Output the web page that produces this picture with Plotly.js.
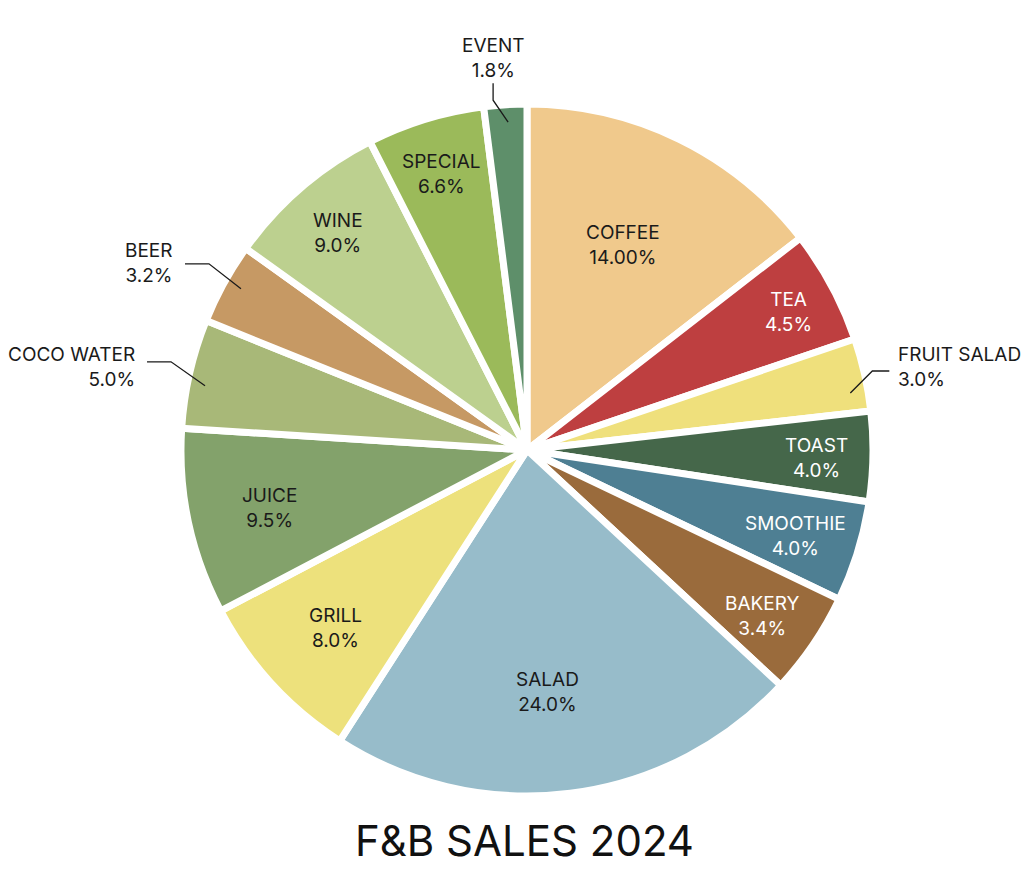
<!DOCTYPE html>
<html><head><meta charset="utf-8">
<script src="https://cdn.plot.ly/plotly-3.0.1.min.js"></script>
<style>html,body{margin:0;padding:0;background:#fff}#chart{width:1024px;height:893px}</style>
</head><body><div id="chart"></div>
<script>
// ---- data ----
const categories = ['COFFEE','TEA','FRUIT SALAD','TOAST','SMOOTHIE','BAKERY','SALAD','GRILL','JUICE','COCO WATER','BEER','WINE','SPECIAL','EVENT'];
// slice sizes as drawn in the picture (angles)
const sliceValues = [14.5, 5.3, 3.4, 4.2, 4.7, 4.8, 22.2, 8.2, 8.7, 5.1, 3.8, 7.6, 5.5, 2.0];
// percentages as printed on the reference
const shareLabels = ['14.00%','4.5%','3.0%','4.0%','4.0%','3.4%','24.0%','8.0%','9.5%','5.0%','3.2%','9.0%','6.6%','1.8%'];
const sliceColors = ['#F0C98C','#BE3F40','#EFE07C','#45674A','#4E7F93','#9A6B3C','#97BCCA','#EDE17C','#83A26B','#A8B878','#C69964','#BCD08F','#9BBA5A','#5E8F6A'];
const lightTextSlices = ['TEA','TOAST','SMOOTHIE','BAKERY'];
const chartTitle = 'F&B SALES 2024';

// ---- layout / style config ----
const W = 1024, H = 893;
const CX = 527, CY = 450, R = 346;          // pie centre and radius (px)
const FONT = 'Inter, "Liberation Sans", Arial, sans-serif';
const DARK = '#1a1a1a';
const LABEL_SIZE = 19;
const TEXT_DROP = 3;                         // small vertical nudge of inside labels (px)
// placement of inside labels: distance from centre (px) and angular nudge (deg) from each slice's mid angle
const insideLabelPlacement = {
  COFFEE: {r: 229, da: -1.2}, TEA: {r: 297, da: 0}, TOAST: {r: 290, da: 0}, SMOOTHIE: {r: 281, da: 0},
  BAKERY: {r: 287, da: 0.5}, SALAD: {r: 240, da: 2.2}, GRILL: {r: 259, da: 0}, JUICE: {r: 263, da: 0},
  WINE: {r: 290, da: 0}, SPECIAL: {r: 292, da: 0}
};
// leader-line styling for labels placed outside the pie
const outsideLabelStyle = {
  'FRUIT SALAD': {side: 'right', da: 2.6, dx: 22, dy: -22, len: 17, gap: 7, ty: -4},
  'COCO WATER': {side: 'left', da: -1.5, dx: -34, dy: -24, len: 24, gap: 10, ty: 5},
  'BEER': {side: 'left', da: 0.6, dx: -32, dy: -25, len: 24, gap: 10, ty: -1},
  'EVENT': {side: 'up', da: 0.3, dx: -15, dy: -22, len: 17, gap: -1, ty: 0}
};

const total = sliceValues.reduce((a, b) => a + b, 0);
let cum = 0;
const midAngles = sliceValues.map(v => { const m = (cum + v / 2) / total * 2 * Math.PI; cum += v; return m; });
const deg = Math.PI / 180;

const px = x => x / W, py = y => 1 - y / H;
const annotations = [], shapes = [];
categories.forEach((c, i) => {
  const txt = c + '<br>' + shareLabels[i];
  const st = outsideLabelStyle[c];
  if (!st) {
    const pl = insideLabelPlacement[c];
    const a = midAngles[i] + pl.da * deg;
    annotations.push({xref: 'paper', yref: 'paper',
      x: px(CX + pl.r * Math.sin(a)), y: py(CY - pl.r * Math.cos(a) + TEXT_DROP),
      xanchor: 'center', yanchor: 'middle', align: 'center', showarrow: false, text: txt,
      font: {family: FONT, size: LABEL_SIZE, color: lightTextSlices.includes(c) ? '#ffffff' : DARK}});
    return;
  }
  const a = midAngles[i] + st.da * deg;
  const rr = 0.96 * (R - 4);
  const P = [CX + rr * Math.sin(a), CY - rr * Math.cos(a)];
  const E = [P[0] + st.dx, P[1] + st.dy];
  let Hh, ann;
  if (st.side === 'left') {
    Hh = [E[0] - st.len, E[1]];
    ann = {x: px(Hh[0] - st.gap), y: py(Hh[1] + st.ty), xanchor: 'right', yanchor: 'middle', align: 'right'};
  } else if (st.side === 'right') {
    Hh = [E[0] + st.len, E[1]];
    ann = {x: px(Hh[0] + st.gap), y: py(Hh[1] + st.ty), xanchor: 'left', yanchor: 'middle', align: 'left'};
  } else {
    Hh = [E[0], E[1] - st.len];
    ann = {x: px(Hh[0]), y: py(Hh[1] - st.gap), xanchor: 'center', yanchor: 'bottom', align: 'center'};
  }
  shapes.push({type: 'path', xref: 'paper', yref: 'paper',
    path: `M ${px(P[0])} ${py(P[1])} L ${px(E[0])} ${py(E[1])} L ${px(Hh[0])} ${py(Hh[1])}`,
    line: {color: DARK, width: 1.3}});
  annotations.push(Object.assign(ann, {xref: 'paper', yref: 'paper', text: txt, showarrow: false,
    font: {family: FONT, size: LABEL_SIZE, color: DARK}}));
});

const trace = {
  type: 'pie',
  labels: categories,
  values: sliceValues,
  textinfo: 'none',
  sort: false,
  direction: 'clockwise',
  rotation: 0,
  marker: {colors: sliceColors, line: {color: '#ffffff', width: 7}},
  domain: {x: [(CX - R) / W, (CX + R) / W], y: [(H - CY - R) / H, (H - CY + R) / H]},
  hoverinfo: 'skip',
  showlegend: false
};

const layout = {
  width: W, height: H,
  margin: {l: 0, r: 0, t: 0, b: 0},
  paper_bgcolor: '#ffffff',
  showlegend: false,
  title: {text: chartTitle, x: 524.5 / W, xanchor: 'center', y: 1 - 841 / H, yanchor: 'middle', yref: 'container',
    font: {family: FONT, size: 42, color: '#111111'}},
  annotations: annotations,
  shapes: shapes
};

Plotly.newPlot('chart', [trace], layout, {displayModeBar: false, staticPlot: true});
</script>
</body></html>
